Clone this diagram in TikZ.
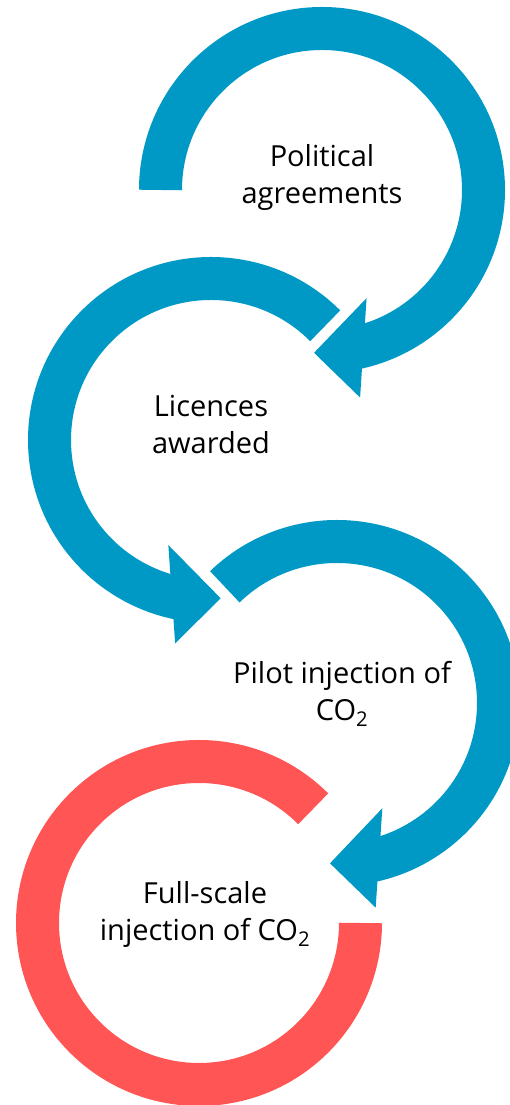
\documentclass[tikz,border=0pt]{standalone}
\usepackage{fontspec}
\setmainfont{Open Sans}
\definecolor{ringblue}{HTML}{0099C6}
\definecolor{ringred}{HTML}{FF5555}
\tikzset{
  ring/.style={line width=43pt},
  stage/.style={align=center, inner sep=0pt, font=\fontsize{29}{37}\selectfont},
}
\begin{document}
\begin{tikzpicture}[x=1pt, y=1pt]
    \useasboundingbox (0,0) rectangle (510,1105);
    \clip (0,0) rectangle (510,1105);

    % Centres of the four rings, top to bottom
    \coordinate (c1) at (322,915);
    \coordinate (c2) at (211,665);
    \coordinate (c3) at (337,402);
    \coordinate (c4) at (199,182);

    % Stage labels inside the rings
    \node[stage] (political) at ([yshift=13pt]c1) {Political\\agreements};
    \node[stage] (licences) at ([yshift=15pt]c2) {Licences\\awarded};
    \node[stage] (pilot) at ([shift={(5pt,9pt)}]c3) {Pilot injection of\\CO\textsubscript{2}};
    \node[stage] (fullscale) at ([shift={(6pt,9pt)}]c4) {Full-scale\\injection of CO\textsubscript{2}};

    % Blue ring arrows: shaft, then head
    \draw[ring, ringblue] ([shift={(180:161.5)}]c1) arc[start angle=180, end angle=-78, radius=161.5];
    \fill[ringblue] ([shift={(-67.6:117)}]c1) -- ([shift={(-92.8:163)}]c1) -- ([shift={(-79.6:211)}]c1) -- cycle;

    \draw[ring, ringblue] ([shift={(45:161.5)}]c2) arc[start angle=45, end angle=259, radius=161.5];
    \fill[ringblue] ([shift={(247.9:113.4)}]c2) -- ([shift={(273.5:158.6)}]c2) -- ([shift={(260:206.5)}]c2) -- cycle;

    \draw[ring, ringblue] ([shift={(134:161.5)}]c3) arc[start angle=134, end angle=-78, radius=161.5];
    \fill[ringblue] ([shift={(-66.7:114.6)}]c3) -- ([shift={(-92.5:160.5)}]c3) -- ([shift={(-79.3:208.3)}]c3) -- cycle;

    % Last stage: open red ring
    \draw[ring, ringred] ([shift={(45:161.5)}]c4) arc[start angle=45, end angle=360, radius=161.5];
\end{tikzpicture}
\end{document}
